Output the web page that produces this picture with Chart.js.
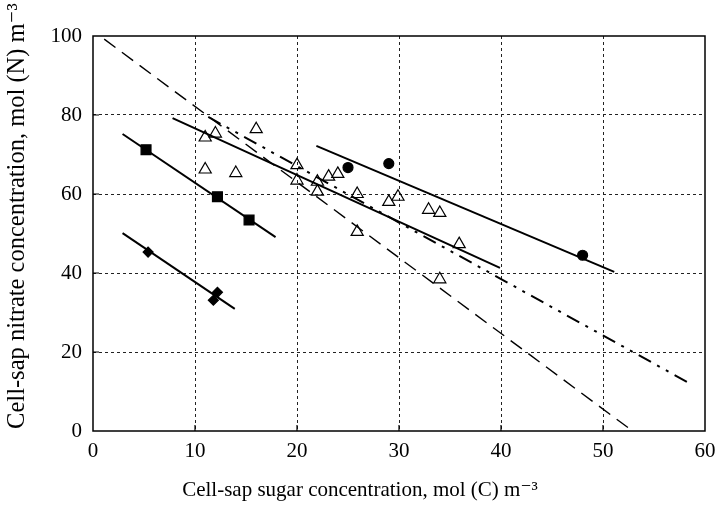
<!DOCTYPE html>
<html>
<head>
<meta charset="utf-8">
<script src="https://cdn.jsdelivr.net/npm/chart.js@4/dist/chart.umd.min.js"></script>
<style>
    html, body { margin: 0; padding: 0; background: #fff; }
</style>
</head>
<body>
<canvas id="sugarNitrateChart" width="720" height="508"></canvas>
<script>
    // measured points (x = sugar, y = nitrate)
    const diamondX = [5.4, 11.8, 12.2];
    const diamondY = [45.3, 33.1, 35.1];
    const squareX = [5.2, 12.2, 15.3];
    const squareY = [71.2, 59.3, 53.4];
    const circleX = [25.0, 29.0, 48.0];
    const circleY = [66.7, 67.7, 44.5];
    const triangleX = [11.0, 12.0, 16.0, 11.0, 14.0, 20.0, 20.0, 22.0, 22.0, 23.1, 24.0, 25.9, 25.9, 29.0, 29.9, 32.9, 34.0, 35.9, 34.0];
    const triangleY = [74.3, 75.3, 76.4, 66.2, 65.3, 67.3, 63.4, 63.1, 60.6, 64.4, 65.1, 60.0, 50.4, 58.0, 59.3, 56.0, 55.2, 47.3, 38.4];

    // fitted lines, end points
    const diamondFitX = [2.9, 13.9];
    const diamondFitY = [50.1, 30.9];
    const squareFitX = [2.9, 17.9];
    const squareFitY = [75.2, 49.1];
    const triangleFitX = [7.8, 39.9];
    const triangleFitY = [79.2, 41.3];
    const circleFitX = [21.9, 51.1];
    const circleFitY = [72.2, 40.3];
    const dashedFitX = [1.1, 52.9];
    const dashedFitY = [99.2, 0];
    const dashDotFitX = [11.3, 58.6];
    const dashDotFitY = [79.5, 11.9];

    const xTicks = [0, 10, 20, 30, 40, 50, 60];
    const yTicks = [0, 20, 40, 60, 80, 100];

    const xTitle = "Cell-sap sugar concentration, mol (C) m⁻³";
    const yTitle = "Cell-sap nitrate concentration, mol (N) m⁻³";

    const serif = "'Liberation Serif', 'DejaVu Serif', serif";

    function toPoints(xs, ys) {
        return xs.map((x, i) => ({ x: x, y: ys[i] }));
    }

    function markerSet(xs, ys, style, radius, fill) {
        return {
            data: toPoints(xs, ys),
            showLine: false,
            pointStyle: style,
            pointRadius: radius,
            pointBorderColor: "#000",
            pointBorderWidth: 1.2,
            pointBackgroundColor: fill
        };
    }

    function lineSet(xs, ys, dash, width) {
        return {
            data: toPoints(xs, ys),
            showLine: true,
            borderColor: "#000",
            borderWidth: width,
            borderDash: dash,
            pointRadius: 0
        };
    }

    // box round the plot, short inward ticks, axis titles (off-centre as in the print)
    const frameAndTicks = {
        id: "frameAndTicks",
        afterDraw(chart) {
            const ctx = chart.ctx;
            const area = chart.chartArea;
            const xs = chart.scales.x;
            const ys = chart.scales.y;
            ctx.save();
            ctx.strokeStyle = "#000";
            ctx.lineWidth = 1.5;
            ctx.setLineDash([]);
            ctx.strokeRect(area.left, area.top, area.right - area.left, area.bottom - area.top);
            ctx.lineWidth = 1.2;
            ctx.beginPath();
            xTicks.slice(1, -1).forEach((v) => {
                const px = xs.getPixelForValue(v);
                ctx.moveTo(px, area.bottom);
                ctx.lineTo(px, area.bottom - 6);
            });
            yTicks.slice(1, -1).forEach((v) => {
                const py = ys.getPixelForValue(v);
                ctx.moveTo(area.left, py);
                ctx.lineTo(area.left + 6, py);
            });
            ctx.stroke();

            ctx.fillStyle = "#000";
            ctx.textAlign = "center";
            ctx.textBaseline = "middle";
            ctx.font = "21px " + serif;
            ctx.fillText(xTitle, 360, 490);
            ctx.translate(18, 216);
            ctx.rotate(-Math.PI / 2);
            ctx.font = "24.5px " + serif;
            ctx.fillText(yTitle, 0, 0);
            ctx.restore();
        }
    };

    function edgeless(ticks) {
        const first = ticks[0];
        const last = ticks[ticks.length - 1];
        return (c) => (c.tick.value === first || c.tick.value === last ? "rgba(0,0,0,0)" : "#222");
    }

    new Chart(document.getElementById("sugarNitrateChart"), {
        type: "scatter",
        data: {
            datasets: [
                lineSet(dashedFitX, dashedFitY, [14, 8], 1.4),
                lineSet(dashDotFitX, dashDotFitY, [14, 7, 3, 7, 3, 7], 2),
                lineSet(diamondFitX, diamondFitY, [], 2),
                lineSet(squareFitX, squareFitY, [], 2),
                lineSet(triangleFitX, triangleFitY, [], 2),
                lineSet(circleFitX, circleFitY, [], 2),
                markerSet(diamondX, diamondY, "rectRot", 5, "#000"),
                markerSet(squareX, squareY, "rect", 7, "#000"),
                markerSet(circleX, circleY, "circle", 5, "#000"),
                markerSet(triangleX, triangleY, "triangle", 7, "rgba(255,255,255,0)")
            ]
        },
        options: {
            responsive: false,
            animation: false,
            devicePixelRatio: 1,
            layout: { padding: { top: 36, right: 15, left: 0, bottom: 0 } },
            plugins: {
                legend: { display: false },
                tooltip: { enabled: false }
            },
            scales: {
                x: {
                    type: "linear",
                    min: 0,
                    max: 60,
                    afterFit: (scale) => {
                        scale.height = 77;
                        scale.paddingLeft = 0;
                        scale.paddingRight = 0;
                    },
                    afterBuildTicks: (scale) => { scale.ticks = xTicks.map((v) => ({ value: v })); },
                    border: { display: false, dash: [3, 3] },
                    grid: {
                        color: edgeless(xTicks),
                        lineWidth: 1,
                        drawTicks: false
                    },
                    ticks: {
                        color: "#000",
                        padding: 8,
                        font: { family: serif, size: 21 }
                    },
                    title: { display: false, text: xTitle }
                },
                y: {
                    type: "linear",
                    min: 0,
                    max: 100,
                    afterFit: (scale) => {
                        scale.width = 93;
                        scale.paddingTop = 0;
                        scale.paddingBottom = 0;
                    },
                    afterBuildTicks: (scale) => { scale.ticks = yTicks.map((v) => ({ value: v })); },
                    border: { display: false, dash: [3, 3] },
                    grid: {
                        color: edgeless(yTicks),
                        lineWidth: 1,
                        drawTicks: false
                    },
                    ticks: {
                        color: "#000",
                        padding: 11,
                        font: { family: serif, size: 21 }
                    },
                    title: { display: false, text: yTitle }
                }
            }
        },
        plugins: [frameAndTicks]
    });
</script>
</body>
</html>
